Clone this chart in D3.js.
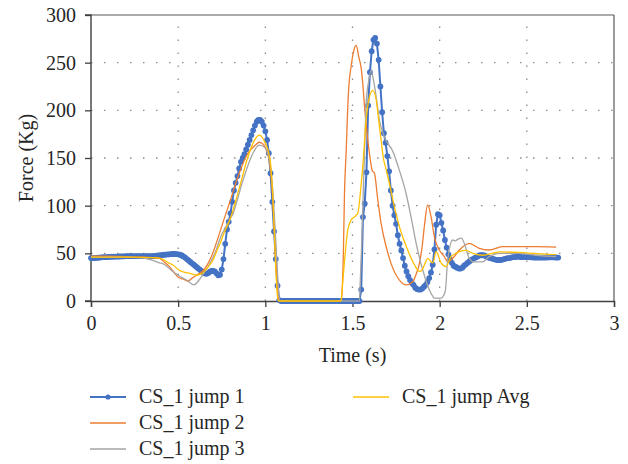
<!DOCTYPE html>
<html><head><meta charset="utf-8">
<script src="https://cdn.jsdelivr.net/npm/d3@7"></script>
<style>
body{margin:0;background:#fff;}
svg{display:block;}
text{font-family:"Liberation Serif","DejaVu Serif",serif;fill:#262626;}
</style></head>
<body>
<svg id="chart" width="628" height="464"></svg>
<script>
// ---------- DATA ----------
const seriesNames = ["CS_1 jump 1","CS_1 jump 2","CS_1 jump 3","CS_1 jump Avg"];
const xTicks = [0,0.5,1,1.5,2,2.5,3];
const yTicks = [0,50,100,150,200,250,300];

// jump 1: sampled every 0.01 s from 0
const jump1Start = 0, jump1Step = 0.01;
const jump1F = [
45,45,45,45.2,45.4,45.6,45.8,46,46,46,
46.2,46.3,46.4,46.5,46.6,46.6,46.7,46.8,46.8,46.9,
47,47,47,47,47,47,47,47,47,47,
47,47,47,47,47,47,47.2,47.4,47.6,47.8,
48,48.2,48.5,48.7,48.9,49,49.2,49.3,49.3,49.2,
49,48.5,47.8,46.8,45.5,44,42.5,41,39.5,38,
36.5,35,33.5,32,30.5,29,28.5,29,30.5,31.5,
31.5,31,29,27,27.5,33,44,60,75,83,
92,104,116,124,131,139,146,150,154,159,
164,169,174,179,184,188,190,190,188,184,
178,169,155,134,104,73,44,16,1,0,
0,0,0,0,0,0,0,0,0,0,
0,0,0,0,0,0,0,0,0,0,
0,0,0,0,0,0,0,0,0,0,
0,0,0,0,0,0,0,0,0,0,
0,0,0,0,0,12,88,102,135,205,
240,262,274,276,270,253,225,198,176,166,
152,136,116,100,90,81,69,60,53,45,
37,31,26,22,19,17,14,12.5,12,12,
13,15,17,20,24,30,38,54,80,91,
90,82,74,64,56,49,44,40,37,36,
35,34,34,35,37,38.5,40,41.5,43,44,
45,46,47,48,48,48,47.5,46.5,45.5,45,
44.5,44,43.5,43,43,43,43.5,44,44.5,45,
45,45.5,46,46,46.5,46.5,46.5,46,46,46,
46,46,45.8,45.8,45.6,45.6,45.5,45.5,45.5,45.5,
45.6,45.6,45.7,45.8,45.8,45.8,45.7,45.6,45.5
];

const jump2T = [0,0.1,0.2,0.3,0.35,0.39,0.42,0.45,0.48,0.5,0.53,0.557,0.58,0.605,0.63,0.653,0.67,0.69,0.71,0.73,0.76,0.8,0.85,0.9,0.94,0.965,0.99,1.006,1.025,1.04,1.05,1.06,1.07,1.08,1.43,1.435,1.448,1.454,1.464,1.47,1.479,1.492,1.506,1.521,1.536,1.55,1.559,1.569,1.582,1.597,1.613,1.626,1.645,1.664,1.693,1.721,1.769,1.807,1.845,1.865,1.884,1.9,1.912,1.931,1.951,1.97,1.998,2.027,2.046,2.075,2.113,2.17,2.227,2.284,2.36,2.456,2.55,2.668];
const jump2F = [47,47,46.5,46,45.5,45,41,36,29,25,23,21,24,27,30,34,39,46.5,56,67,84,106,134,155,163,166.5,164,158,144,115,80,45,14,0,0,1,53.5,113,158,190,225,246,261.5,268.5,256,244,228,204,179,155,137,134,106,81.5,57,39.5,22,17,20,28,39.5,58,78,100.7,88,67,53.5,46.5,41,44.8,53.5,60.5,55.3,53.5,57,57,57,56.5];

const jump3T = [0,0.1,0.2,0.3,0.35,0.393,0.414,0.45,0.47,0.5,0.548,0.59,0.62,0.65,0.672,0.71,0.748,0.78,0.815,0.872,0.929,0.964,0.99,1.01,1.03,1.045,1.055,1.065,1.075,1.082,1.54,1.544,1.555,1.563,1.569,1.578,1.594,1.607,1.62,1.636,1.654,1.683,1.731,1.769,1.807,1.836,1.865,1.903,1.941,1.96,1.97,2.008,2.02,2.033,2.046,2.075,2.09,2.103,2.125,2.141,2.17,2.198,2.246,2.284,2.342,2.456,2.55,2.668];
const jump3F = [46,46,46,45,43,40,39,34,31,27,22,17,22,30,36,50,69,80,92,127,155,163.6,162,157,140,110,80,45,14,0,0,18.5,71,123,155,207,232,242,232,214,190,172,157,137,113,88,60.5,32.5,11.5,5,3,3,5,11.5,43,64,63,64.7,66,60.5,44.8,41,41,46.5,50,50,48,46.5];

const avgT = [0,0.1,0.2,0.3,0.35,0.393,0.42,0.45,0.47,0.5,0.51,0.54,0.567,0.605,0.625,0.643,0.66,0.681,0.7,0.72,0.74,0.76,0.796,0.853,0.9,0.939,0.967,0.996,1.025,1.044,1.053,1.063,1.073,1.08,1.43,1.435,1.445,1.46,1.473,1.492,1.51,1.521,1.53,1.55,1.559,1.578,1.597,1.616,1.636,1.65,1.664,1.677,1.693,1.712,1.74,1.769,1.807,1.855,1.884,1.9,1.92,1.931,1.96,1.98,2.008,2.036,2.065,2.094,2.113,2.151,2.19,2.246,2.342,2.45,2.53,2.668];
const avgF = [46,46,46,45.8,45.5,45,43,39.5,37.8,33,31.8,30,29,27,28,29.7,33,37.8,43,52,60,70,85,120,151,169,174,167,151,106,64,22,1,0,0,1,22,53.5,74.5,85,88,90,92,123,141,190,214,221,211,190,169,150,138,123,99,78,58,38,31,33,41,44.8,40,51.7,40,36,46.5,50,51.7,53,50,48,51.5,51,50,48.7];

const colors = ["#4472C4","#ED7D31","#A5A5A5","#FFC000"];

// ---------- CHART ----------
const svg = d3.select("#chart");
const x = d3.scaleLinear().domain([0,3]).range([91,614]);
const y = d3.scaleLinear().domain([0,300]).range([301,15]);

const jump1 = jump1F.map((f,i)=>({t: jump1Start + i*jump1Step, f}));
const mk = (T,F)=>T.map((t,i)=>({t, f:F[i]}));
const lines = [jump1, mk(jump2T,jump2F), mk(jump3T,jump3F), mk(avgT,avgF)];

// grid
const g = svg.append("g");
g.selectAll(".hg").data(yTicks.filter(v=>v>0&&v<300)).join("line")
 .attr("x1",x(0)).attr("x2",x(3)).attr("y1",d=>y(d)).attr("y2",d=>y(d))
 .attr("stroke","#8c8c8c").attr("stroke-width",1.3).attr("stroke-dasharray","1.5 11.5");
g.selectAll(".vg").data(xTicks.filter(v=>v>0&&v<3)).join("line")
 .attr("y1",y(0)).attr("y2",y(300)).attr("x1",d=>x(d)).attr("x2",d=>x(d))
 .attr("stroke","#8c8c8c").attr("stroke-width",1.3).attr("stroke-dasharray","1.5 11.5");

// frame top/right
svg.append("line").attr("x1",x(0)).attr("x2",x(3)).attr("y1",y(300)).attr("y2",y(300)).attr("stroke","#595959").attr("stroke-width",1.2);
svg.append("line").attr("x1",x(3)).attr("x2",x(3)).attr("y1",y(0)).attr("y2",y(300)).attr("stroke","#595959").attr("stroke-width",1.2);

// axes
const ax = svg.append("g").attr("transform",`translate(0,${y(0)})`)
  .call(d3.axisBottom(x).tickValues(xTicks).tickSize(6).tickPadding(9).tickFormat(d3.format("")));
const ay = svg.append("g").attr("transform",`translate(${x(0)},0)`)
  .call(d3.axisLeft(y).tickValues(yTicks).tickSize(6).tickPadding(9));
[ax,ay].forEach(a=>{
  a.select(".domain").attr("stroke","#404040").attr("stroke-width",1.4);
  a.selectAll(".tick line").attr("stroke","#404040").attr("stroke-width",1.3);
  a.selectAll(".tick text").attr("font-size",20).attr("font-family","Liberation Serif").attr("fill","#262626");
});
ay.select(".domain").attr("d",`M-6,${y(300)}H0V${y(0)}H-6`);

// series
const lineGen = d3.line().x(d=>x(d.t)).y(d=>y(d.f));
const smooth = d3.line().x(d=>x(d.t)).y(d=>y(d.f)).curve(d3.curveMonotoneX);
svg.append("path").datum(lines[0]).attr("d",lineGen).attr("fill","none")
  .attr("stroke",colors[0]).attr("stroke-width",2);
svg.append("g").selectAll("circle").data(lines[0]).join("circle")
  .attr("cx",d=>x(d.t)).attr("cy",d=>y(d.f)).attr("r",2.9).attr("fill",colors[0]);
[1,2,3].forEach(k=>{
  svg.append("path").datum(lines[k]).attr("d",smooth).attr("fill","none")
    .attr("stroke",colors[k]).attr("stroke-width",1.3);
});

// titles
svg.append("text").attr("x",352.5).attr("y",362).attr("text-anchor","middle").attr("font-size",20).text("Time (s)");
svg.append("text").attr("transform","translate(33,158) rotate(-90)").attr("text-anchor","middle").attr("font-size",20).text("Force (Kg)");

// legend
const legPos = [[90,397],[90,423],[90,449],[353,397]];
seriesNames.forEach((n,i)=>{
  const [lx,ly] = legPos[i];
  svg.append("line").attr("x1",lx).attr("x2",lx+36).attr("y1",ly).attr("y2",ly)
    .attr("stroke",colors[i]).attr("stroke-width",i===0?1.8:1.5);
  if(i===0) svg.append("circle").attr("cx",lx+18).attr("cy",ly).attr("r",2.6).attr("fill",colors[0]);
  svg.append("text").attr("x",lx+49).attr("y",ly+6).attr("font-size",20).text(n);
});
</script>
</body></html>
